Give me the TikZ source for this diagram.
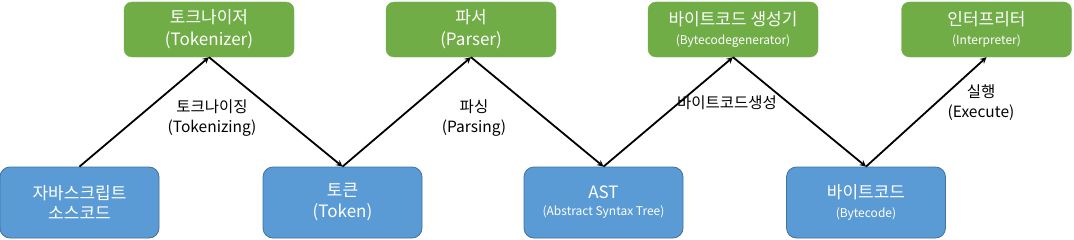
\documentclass[tikz,border=0pt]{standalone}
\usepackage{fontspec}
\setmainfont{Noto Sans CJK KR}
\definecolor{stagegreen}{HTML}{70AD47}
\definecolor{stageblue}{HTML}{5B9BD5}
\definecolor{stageedge}{HTML}{41719C}
\tikzset{
  tool/.style={fill=stagegreen, draw=stagegreen, rounded corners=8pt, minimum width=170pt,
    minimum height=55pt, inner sep=0pt, align=center, text=white,
    font=\fontsize{17}{22}\selectfont},
  artifact/.style={fill=stageblue, draw=stageedge, line width=0.8pt, rounded corners=10pt,
    minimum width=159pt, minimum height=71pt, inner sep=0pt, align=center, text=white,
    font=\fontsize{17}{21}\selectfont},
  flow/.style={->, line width=1.8pt},
  steplabel/.style={align=center, font=\fontsize{15.5}{20}\selectfont},
}
\newcommand{\smlline}[1]{{\fontsize{12}{14}\selectfont #1}}
\begin{document}
\begin{tikzpicture}[>=stealth, x=1pt, y=1pt]
    \useasboundingbox (0,0) rectangle (1074,239);

    % 결과물 (아래)
    \node[artifact] (source) at (79.5, 36.5) {자바스크립트\\[-1pt]소스코드};
    \node[artifact] (token) at (342.5, 36.5) {토큰\\(Token)};
    \node[artifact] (ast) at (603.5, 36.5) {AST\\[-4pt]\smlline{(Abstract Syntax Tree)}};
    \node[artifact] (bytecode) at (866, 36.5) {바이트코드\\[-2pt]\smlline{(Bytecode)}};

    % 처리 단계 (위)
    \node[tool] (tokenizer) at (209, 209.5) {토크나이저\\(Tokenizer)};
    \node[tool] (parser) at (471, 209.5) {파서\\(Parser)};
    \node[tool] (generator) at (733, 209.5) {바이트코드 생성기\\[-3pt]\smlline{(Bytecodegenerator)}};
    \node[tool] (interpreter) at (986.5, 209.5) {인터프리터\\[-3pt]\smlline{(Interpreter)}};

    % 화살표
    \draw[flow] (source.north) -- (tokenizer.south);
    \draw[flow] (tokenizer.south) -- (token.north);
    \draw[flow] (token.north) -- (parser.south);
    \draw[flow] (parser.south) -- (ast.north);
    \draw[flow] (ast.north) -- (generator.south);
    \draw[flow] (generator.south) -- (bytecode.north);
    \draw[flow] (bytecode.north) -- (interpreter.south);

    % 단계 이름
    \node[steplabel] (tokenizing) at (212, 121) {토크나이징\\(Tokenizing)};
    \node[steplabel] (parsing) at (474, 121) {파싱\\(Parsing)};
    \node[steplabel] (generating) at (727, 136) {바이트코드생성};
    \node[steplabel] (execute) at (981, 136) {실행\\(Execute)};
\end{tikzpicture}
\end{document}
